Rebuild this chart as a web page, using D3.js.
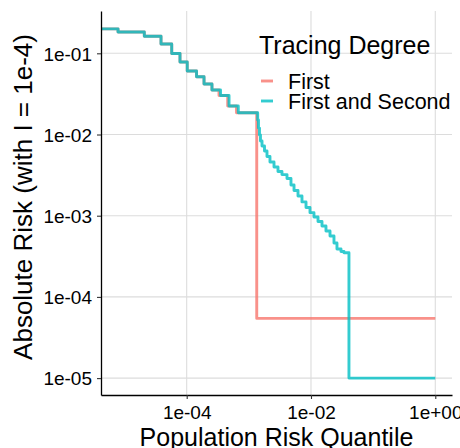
<!DOCTYPE html>
<html>
<head>
<meta charset="utf-8">
<script src="https://cdn.jsdelivr.net/npm/d3@7"></script>
<style>
  body { margin: 0; background: #fff; }
  svg { display: block; font-family: "Liberation Sans", Arial, sans-serif; }
</style>
</head>
<body>
<svg id="chart"></svg>
<script>
// Valores (quantil populacional x risco absoluto)
const quantileFirst = [4.17e-6, 7.85e-6, 2.08e-5, 3.86e-5, 5.74e-5, 7.80e-5, 1.02e-4, 1.44e-4,
  1.90e-4, 2.55e-4, 3.31e-4, 4.57e-4, 6.33e-4, 1.34e-3, 1];
const riskFirst = [0.200, 0.183, 0.162, 0.130, 0.0995, 0.078, 0.0605, 0.0515,
  0.0419, 0.0353, 0.0302, 0.0224, 0.0185, 5.44e-5, 5.44e-5];

const quantileSecond = [4.17e-6, 7.85e-6, 2.08e-5, 3.86e-5, 5.74e-5, 7.80e-5, 1.02e-4, 1.44e-4,
  1.90e-4, 2.55e-4, 3.50e-4, 4.80e-4, 6.76e-4, 1.387e-3, 1.429e-3, 1.483e-3, 1.538e-3, 1.629e-3,
  1.786e-3, 1.959e-3, 2.188e-3, 2.541e-3, 2.944e-3, 3.412e-3, 4.111e-3, 4.764e-3, 5.333e-3,
  6.180e-3, 7.161e-3, 8.318e-3, 9.638e-3, 1.117e-2, 1.297e-2, 1.503e-2, 1.742e-2, 2.023e-2,
  2.344e-2, 2.618e-2, 3.041e-2, 3.396e-2, 4.083e-2, 1];
const riskSecond = [0.200, 0.183, 0.162, 0.130, 0.0995, 0.078, 0.0605, 0.0515,
  0.0419, 0.0353, 0.0302, 0.0224, 0.0185, 0.0151, 0.0120, 0.00986, 0.00832, 0.00722,
  0.00627, 0.00536, 0.00458, 0.00398, 0.00350, 0.00321, 0.00287, 0.00239, 0.00204,
  0.00175, 0.00148, 0.00126, 0.00109, 0.000964, 0.000849, 0.000747, 0.000648, 0.000562,
  0.000461, 0.000389, 0.000362, 0.000350, 1e-5, 1e-5];

const seriesNames = ["First", "First and Second"];
const seriesColors = ["#F8766D", "#00BFC4"];

const xTicks = [1e-4, 1e-2, 1];
const xTickLabels = ["1e-04", "1e-02", "1e+00"];
const yTicks = [1e-1, 1e-2, 1e-3, 1e-4, 1e-5];
const yTickLabels = ["1e-01", "1e-02", "1e-03", "1e-04", "1e-05"];

const width = 460, height = 448;
const margin = { top: 11, right: 8, bottom: 53, left: 101 };

const svg = d3.select("#chart")
    .attr("width", width)
    .attr("height", height);

const x = d3.scaleLog()
    .domain([Math.pow(10, -5.379), Math.pow(10, 0.269)])
    .range([margin.left, width - margin.right]);

const y = d3.scaleLog()
    .domain([Math.pow(10, -5.208), Math.pow(10, -0.479)])
    .range([height - margin.bottom, margin.top]);

// grade
const grid = svg.append("g");
grid.selectAll("line.gx")
    .data(xTicks)
    .join("line")
    .attr("x1", d => x(d)).attr("x2", d => x(d))
    .attr("y1", y.range()[0]).attr("y2", y.range()[1])
    .attr("stroke", "#dcdcdc").attr("stroke-width", 1.1);
grid.selectAll("line.gy")
    .data(yTicks)
    .join("line")
    .attr("y1", d => y(d)).attr("y2", d => y(d))
    .attr("x1", x.range()[0]).attr("x2", x.range()[1])
    .attr("stroke", "#dcdcdc").attr("stroke-width", 1.1);

svg.append("clipPath").attr("id", "clip")
    .append("rect")
    .attr("x", margin.left).attr("y", margin.top)
    .attr("width", width - margin.left - margin.right)
    .attr("height", height - margin.top - margin.bottom);

const line = d3.line()
    .x(d => x(d[0]))
    .y(d => y(d[1]))
    .curve(d3.curveStepAfter);

const series = [
    d3.zip(quantileFirst, riskFirst),
    d3.zip(quantileSecond, riskSecond)
];

svg.append("g").attr("clip-path", "url(#clip)")
    .selectAll("path")
    .data(series)
    .join("path")
    .attr("d", line)
    .attr("fill", "none")
    .attr("stroke", (d, i) => seriesColors[i])
    .attr("stroke-opacity", 0.8)
    .attr("stroke-width", 2.9)
    .attr("stroke-linejoin", "round");

// eixos
const xAxis = svg.append("g")
    .attr("transform", `translate(0,${height - margin.bottom})`)
    .call(d3.axisBottom(x).tickValues(xTicks).tickFormat((d, i) => xTickLabels[i]).tickSize(4).tickSizeOuter(0));
const yAxis = svg.append("g")
    .attr("transform", `translate(${margin.left},0)`)
    .call(d3.axisLeft(y).tickValues(yTicks).tickFormat((d, i) => yTickLabels[i]).tickSize(4).tickSizeOuter(0));

[xAxis, yAxis].forEach(a => {
    a.select(".domain").attr("stroke", "#000").attr("stroke-width", 1.3);
    a.selectAll(".tick line").attr("stroke", "#333").attr("stroke-width", 1.1);
    a.selectAll(".tick text")
        .attr("fill", "#000")
        .style("font-size", "19px")
        .style("font-family", "'Liberation Sans', Arial, sans-serif");
});
xAxis.selectAll(".tick text").attr("dy", null).attr("y", 24);
yAxis.selectAll(".tick text").attr("x", -9).attr("dy", "0.36em");

// títulos dos eixos
svg.append("text")
    .attr("x", (margin.left + width - margin.right) / 2)
    .attr("y", 446)
    .attr("text-anchor", "middle")
    .style("font-size", "25px")
    .text("Population Risk Quantile");

svg.append("text")
    .attr("transform", "translate(32,197) rotate(-90)")
    .attr("text-anchor", "middle")
    .style("font-size", "26px")
    .text("Absolute Risk (with I = 1e-4)");

// legenda
const legend = svg.append("g").attr("transform", "translate(259,0)");
legend.append("text")
    .attr("x", 0).attr("y", 54)
    .style("font-size", "25px")
    .text("Tracing Degree");

const items = legend.selectAll("g.item")
    .data(seriesNames)
    .join("g")
    .attr("transform", (d, i) => `translate(0,${81 + i * 20})`);
items.append("line")
    .attr("x1", 2).attr("x2", 14)
    .attr("stroke", (d, i) => seriesColors[i])
    .attr("stroke-opacity", 0.8)
    .attr("stroke-width", 2.9);
items.append("text")
    .attr("x", 29).attr("y", 7.5)
    .style("font-size", "21.5px")
    .text(d => d);
</script>
</body>
</html>
